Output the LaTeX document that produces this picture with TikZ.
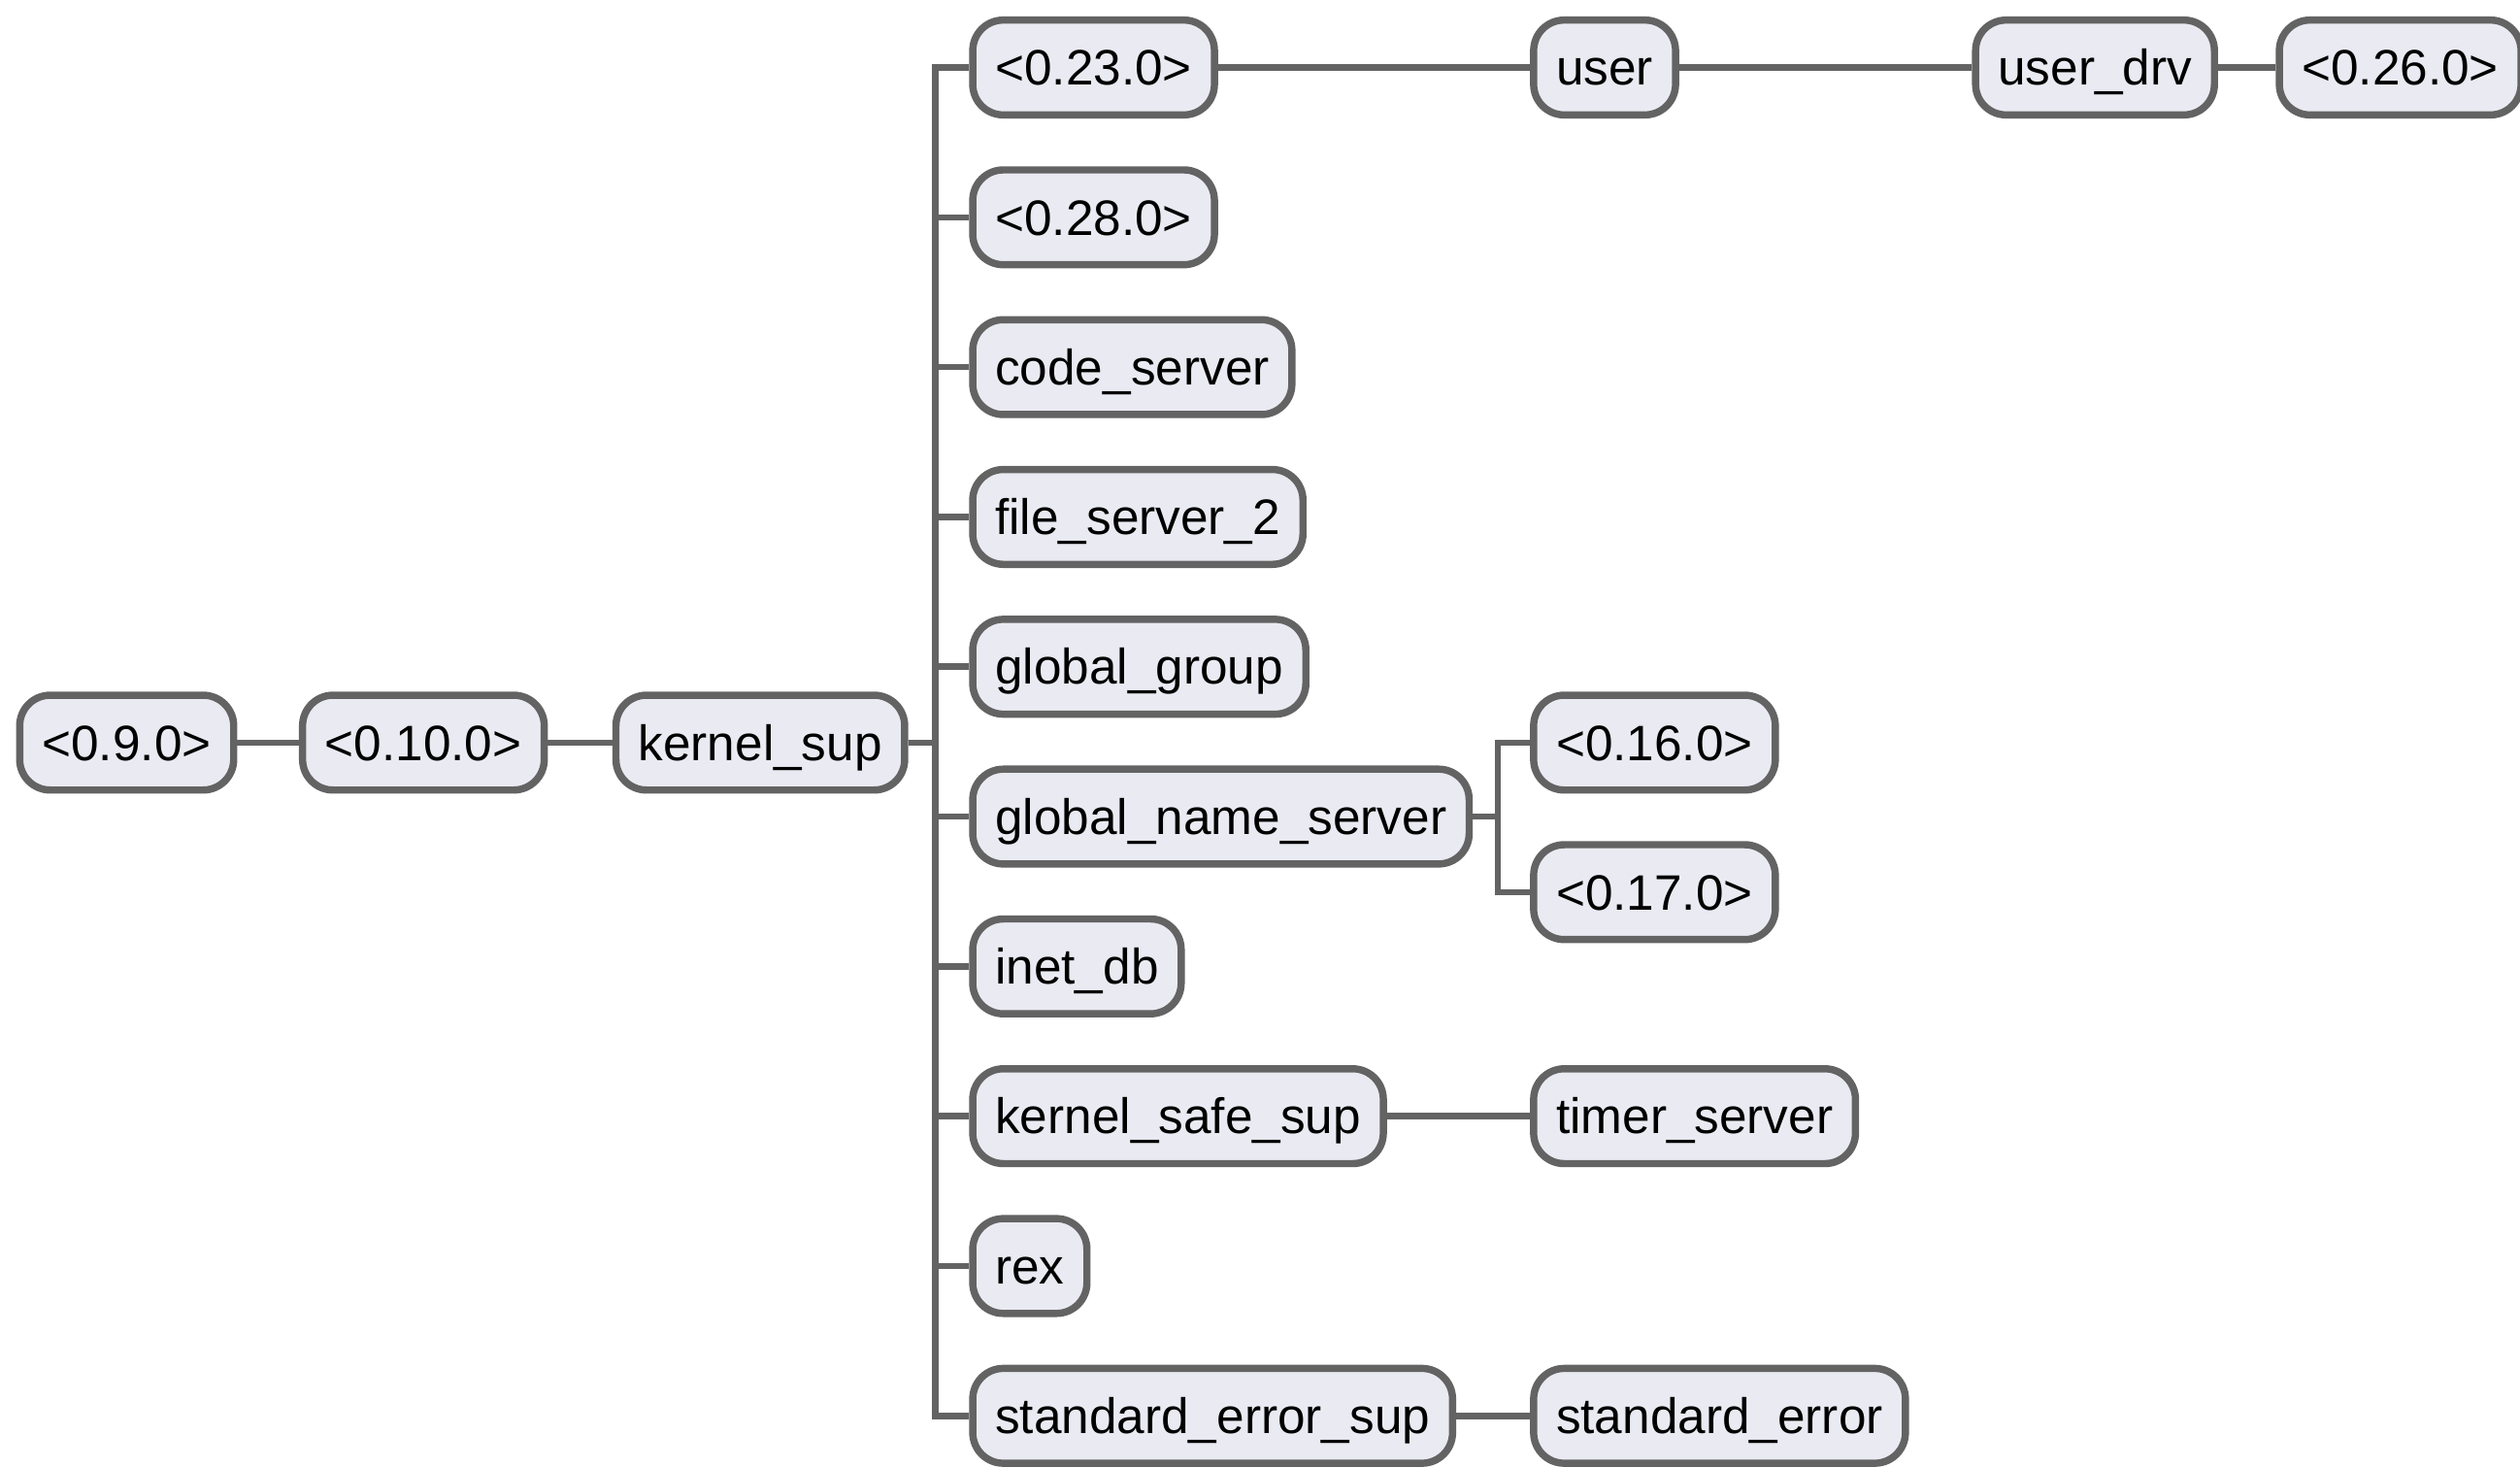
\documentclass[tikz,border=0pt]{standalone}
\usepackage{fontspec}
\setmainfont{Liberation Sans}
\definecolor{edgegray}{HTML}{636363}
\definecolor{boxfill}{HTML}{EAEAF2}
\tikzset{
  proc/.style={draw=edgegray, fill=boxfill, line width=4.5pt, rounded corners=19pt,
    minimum height=59pt, inner xsep=14pt, inner ysep=0pt, anchor=west,
    font=\fontsize{31}{34}\selectfont, text height=22pt, text depth=0pt},
  link/.style={draw=edgegray, line width=4pt}
}
\begin{document}
\begin{tikzpicture}[x=1pt,y=1pt]
\useasboundingbox (0,0) rectangle (1568,913);
% root chain
\node[proc] (p9)  at (10,451) {<0.9.0>};
\node[proc] (p10) at (186,451) {<0.10.0>};
\node[proc] (ks)  at (381,451) {kernel\_sup};
% children of kernel_sup
\node[proc] (c1)  at (603,871) {<0.23.0>};
\node[proc] (c2)  at (603,777.8) {<0.28.0>};
\node[proc] (c3)  at (603,684.6) {code\_server};
\node[proc] (c4)  at (603,591.4) {file\_server\_2};
\node[proc] (c5)  at (603,498.2) {global\_group};
\node[proc] (c6)  at (603,405) {global\_name\_server};
\node[proc] (c7)  at (603,311.8) {inet\_db};
\node[proc] (c8)  at (603,218.6) {kernel\_safe\_sup};
\node[proc] (c9)  at (603,125.4) {rex};
\node[proc] (c10) at (603,32.2) {standard\_error\_sup};
% further levels
\node[proc] (usr)  at (952,871) {user};
\node[proc] (udrv) at (1227,871) {user\_drv};
\node[proc] (p26)  at (1416,871) {<0.26.0>};
\node[proc] (p16)  at (952,451) {<0.16.0>};
\node[proc] (p17)  at (952,358) {<0.17.0>};
\node[proc] (tim)  at (952,218.6) {timer\_server};
\node[proc] (se)   at (952,32.2) {standard\_error};
% junction points of the fan-outs
\coordinate (ksj) at (582,451);
\coordinate (gnj) at (932,405);
% connectors
\draw[link] (p9.east) -- (p10.west);
\draw[link] (p10.east) -- (ks.west);
\foreach \c in {c1,c2,c3,c4,c5,c6,c7,c8,c9,c10}
  \draw[link] (ks.east) -- (ksj) |- (\c.west);
\draw[link] (c1.east) -- (usr.west);
\draw[link] (usr.east) -- (udrv.west);
\draw[link] (udrv.east) -- (p26.west);
\draw[link] (c6.east) -- (gnj) |- (p16.west);
\draw[link] (c6.east) -- (gnj) |- (p17.west);
\draw[link] (c8.east) -- (tim.west);
\draw[link] (c10.east) -- (se.west);
\end{tikzpicture}
\end{document}
